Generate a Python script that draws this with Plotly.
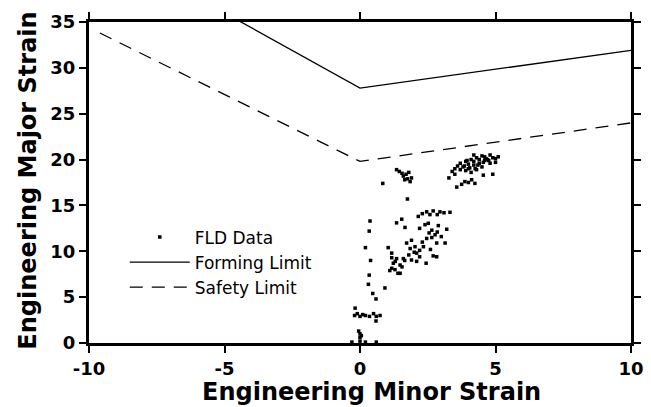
import plotly.graph_objects as go

# FLD measured points (minor strain %, major strain %)
fld_minor = [
    # near origin / along x=0
    0.0, 0.0, 0.0, -0.05, 0.05, -0.3, 0.2, 0.6,
    -0.18, -0.2, -0.1, 0.0, 0.1, 0.2, 0.35, 0.5, 0.6, 0.74, 0.59,
    # vertical chain near x~0.3
    0.59, 0.47, 0.92, 0.31, 0.34, 0.39, 0.2, 0.34, 0.37, 0.84, 1.75,
    # middle cluster
    1.35, 1.54, 1.66, 2.15, 2.46, 2.7, 2.95, 3.32, 2.58, 2.3, 2.85, 3.1,
    2.52, 2.89, 3.2, 2.2, 2.85, 2.65, 2.46, 2.83, 3.14, 1.9, 2.2, 2.03,
    2.7, 2.83, 2.44, 1.04, 1.17, 1.17, 1.35, 1.6, 1.9, 2.09, 1.23, 1.48,
    1.17, 1.29, 1.48, 1.1, 1.72, 1.85, 2.09, 2.2, 2.34, 2.65, 2.77, 2.4,
    2.55, 2.3, 2.0, 1.8, 1.55, 1.4, 2.6, 3.0, 1.3, 1.65,
    # cluster near (1.6, 18)
    1.35, 1.45, 1.55, 1.6, 1.7, 1.75, 1.8, 1.85, 1.9, 1.65,
    # upper-right cluster
    3.5, 3.6, 3.7, 3.8, 3.9, 4.0, 4.0, 4.1, 4.2, 4.2, 4.3, 4.4, 4.4, 4.5,
    4.6, 4.6, 4.7, 4.8, 4.9, 5.0, 5.1, 3.9, 4.1, 4.3, 4.5, 3.7, 3.4, 4.8,
    5.0, 4.2, 3.85, 4.05, 4.35, 4.55, 4.75, 3.95, 4.25, 4.65,
    3.28, 3.57, 3.87, 4.12, 4.24, 4.55, 4.9, 3.75, 4.0, 3.5,
]
fld_major = [
    0.2, 0.6, 1.0, 1.3, 0.8, 0.1, 0.1, 0.1,
    3.8, 3.0, 3.2, 2.9, 3.1, 3.0, 2.9, 3.2, 2.9, 3.0, 2.4,
    4.8, 5.4, 6.0, 6.4, 7.4, 9.0, 10.4, 12.2, 13.3, 17.4, 15.7,
    13.1, 13.5, 12.6, 13.8, 14.3, 14.4, 14.3, 14.25, 14.0, 14.1, 14.0, 14.2,
    13.05, 12.8, 12.4, 12.5, 12.1, 11.5, 11.4, 10.9, 10.9, 11.2, 10.1, 10.5,
    9.5, 9.4, 8.7, 10.4, 9.8, 9.3, 9.2, 9.2, 9.05, 8.9, 8.7, 8.5,
    8.15, 8.0, 7.6, 7.9, 10.9, 10.3, 9.8, 9.4, 10.5, 12.3, 11.8, 12.9,
    12.0, 11.0, 9.9, 9.6, 8.3, 7.6, 10.2, 11.6, 8.9, 9.0,
    18.9, 18.7, 18.5, 18.2, 18.4, 17.9, 18.6, 17.6, 18.0, 17.8,
    19.0, 19.3, 19.6, 19.2, 19.8, 19.5, 19.0, 20.0, 19.4, 19.8, 20.2, 19.6, 20.0, 20.4,
    19.9, 20.3, 20.0, 20.5, 20.2, 20.1, 20.3, 18.8, 18.6, 18.9, 19.2, 18.9, 18.7, 19.6,
    19.7, 20.5, 19.3, 19.1, 19.4, 19.7, 19.9, 19.9, 19.0, 20.1,
    18.0, 17.0, 17.6, 17.8, 17.4, 18.3, 18.4, 17.3, 17.5, 18.4,
]

# Forming limit curve
forming_minor = [-10, 0, 10]
forming_major = [44.2, 27.8, 31.9]

# Safety limit curve
safety_minor = [-9.6, 0, 10]
safety_major = [33.8, 19.8, 24.0]

x_ticks = [-10, -5, 0, 5, 10]
y_ticks = [0, 5, 10, 15, 20, 25, 30, 35]

x_title = "Engineering Minor Strain"
y_title = "Engineering Major Strain"

FONT = "DejaVu Sans"

fig = go.Figure()
fig.add_trace(go.Scatter(
    x=fld_minor, y=fld_major, mode="markers", name="FLD Data",
    marker=dict(symbol="square", size=3.5, color="black"),
))
fig.add_trace(go.Scatter(
    x=forming_minor, y=forming_major, mode="lines", name="Forming Limit",
    line=dict(color="black", width=1.3),
))
fig.add_trace(go.Scatter(
    x=safety_minor, y=safety_major, mode="lines", name="Safety Limit",
    line=dict(color="black", width=1.3, dash="13px,9px"),
))

axis_common = dict(
    showline=True, linewidth=3, linecolor="black", mirror="ticks",
    ticks="outside", ticklen=7, tickwidth=2, tickcolor="black",
    showgrid=False, zeroline=False, automargin=False,
    tickfont=dict(family=FONT, size=18, color="black", weight="bold"),
)

fig.update_layout(
    width=651, height=407,
    margin=dict(l=89, r=20, t=22, b=64),
    paper_bgcolor="white", plot_bgcolor="white",
    font=dict(family=FONT, color="black"),
    xaxis=dict(range=[-10, 10], tickvals=x_ticks,
               ticktext=[str(v) for v in x_ticks], **axis_common),
    yaxis=dict(range=[0, 35], tickvals=y_ticks,
               ticktext=[str(v) for v in y_ticks], **axis_common),
    showlegend=True,
    legend=dict(
        x=0.066, y=0.385, xanchor="left", yanchor="top",
        bgcolor="rgba(0,0,0,0)", borderwidth=0,
        font=dict(family=FONT, size=17, color="black"),
        itemwidth=60, tracegroupgap=0,
    ),
    annotations=[
        dict(text=x_title, xref="paper", yref="paper", x=0.522, y=-0.153,
             xanchor="center", yanchor="middle", showarrow=False,
             font=dict(family=FONT, size=24, color="black", weight="bold")),
        dict(text=y_title, xref="paper", yref="paper", x=-0.113, y=0.505,
             xanchor="center", yanchor="middle", showarrow=False, textangle=-90,
             font=dict(family=FONT, size=24, color="black", weight="bold")),
    ],
)

fig.write_html(
    "out.html",
    config={"displayModeBar": False},
    post_script="document.body.style.margin='0';document.body.style.overflow='hidden';",
)
